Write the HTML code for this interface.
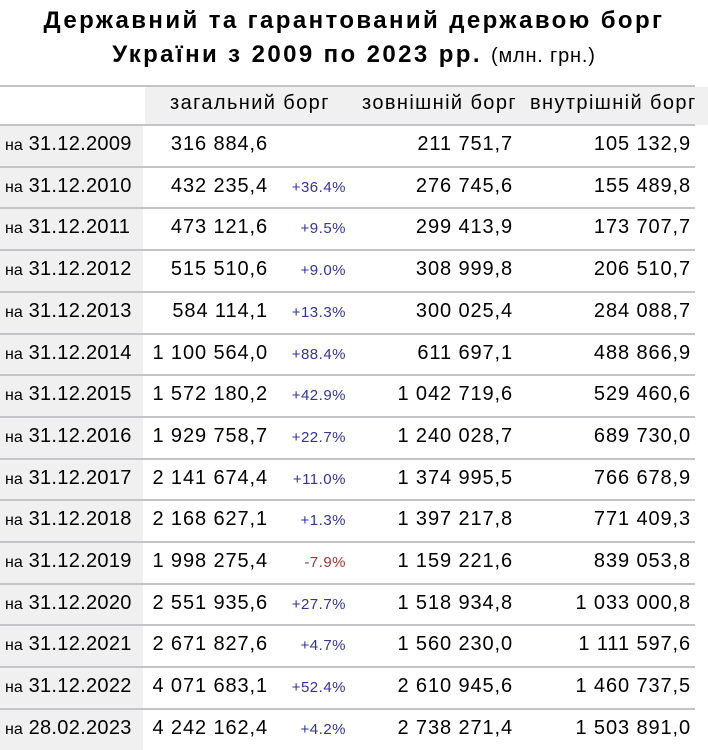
<!DOCTYPE html>
<html><head><meta charset="utf-8">
<style>
body{margin:0;width:708px;height:750px;background:#fff;position:relative;overflow:hidden;font-family:"Liberation Sans","DejaVu Sans",sans-serif;color:#000}
.a{position:absolute;white-space:nowrap}
.t{left:0;width:708px;text-align:center;font-weight:bold;font-size:24px;letter-spacing:2.4px}
.h{font-size:20px;letter-spacing:1.4px;top:92px}
</style></head><body>
<div class="a t" style="top:7px">Державний та гарантований державою борг</div>
<div class="a t" style="top:41px">України з 2009 по 2023 рр. <span style="font-weight:normal;font-size:20px;letter-spacing:0.8px">(млн. грн.)</span></div>
<div class="a" style="left:145px;top:87px;width:563px;height:38px;background:#f0f0f0"></div>
<div class="a" style="left:0;top:125px;width:143px;height:625px;background:#f0f0f0"></div>
<div class="a" style="left:0;top:85px;width:695px;height:2px;background:#c4c4c8"></div>
<div class="a h" style="left:170px">загальний борг</div>
<div class="a h" style="left:362px">зовнішній борг</div>
<div class="a h" style="left:530px">внутрішній борг</div>
<div id="rows"></div>
<script>
const dates=["31.12.2009","31.12.2010","31.12.2011","31.12.2012","31.12.2013","31.12.2014","31.12.2015","31.12.2016","31.12.2017","31.12.2018","31.12.2019","31.12.2020","31.12.2021","31.12.2022","28.02.2023"];
const totals=["316 884,6","432 235,4","473 121,6","515 510,6","584 114,1","1 100 564,0","1 572 180,2","1 929 758,7","2 141 674,4","2 168 627,1","1 998 275,4","2 551 935,6","2 671 827,6","4 071 683,1","4 242 162,4"];
const changes=["","+36.4%","+9.5%","+9.0%","+13.3%","+88.4%","+42.9%","+22.7%","+11.0%","+1.3%","-7.9%","+27.7%","+4.7%","+52.4%","+4.2%"];
const external=["211 751,7","276 745,6","299 413,9","308 999,8","300 025,4","611 697,1","1 042 719,6","1 240 028,7","1 374 995,5","1 397 217,8","1 159 221,6","1 518 934,8","1 560 230,0","2 610 945,6","2 738 271,4"];
const internal=["105 132,9","155 489,8","173 707,7","206 510,7","284 088,7","488 866,9","529 460,6","689 730,0","766 678,9","771 409,3","839 053,8","1 033 000,8","1 111 597,6","1 460 737,5","1 503 891,0"];
const root=document.getElementById('rows');
const rh=41.7, top0=125;
const num='font-size:20px;letter-spacing:0.9px;';
function mk(txt,css){const d=document.createElement('div');d.className='a';d.style.cssText=css;d.innerHTML=txt;root.appendChild(d);return d;}
dates.forEach((dt,i)=>{
  const y=top0+i*rh;
  const ln=mk('','top:'+(y-1)+'px;left:0;width:695px;height:2px;background:#c4c4c8');
  
  
  const ty=y+8;
  const d=mk('<span style="font-size:16px;letter-spacing:0">на</span> '+dt,'left:5px;top:'+ty+'px;font-size:20px;letter-spacing:0.3px');
  
  
  const t=mk(totals[i],'right:'+(708-268)+'px;top:'+ty+'px;'+num);
  
  
  if(changes[i]){
    const c=mk(changes[i],'right:'+(708-346)+'px;top:'+(ty+4)+'px;font-size:15px;letter-spacing:0.5px;color:'+(changes[i][0]=='-'?'#a33':'#33339a'));
    
    
  }
  const e=mk(external[i],'right:'+(708-513)+'px;top:'+ty+'px;'+num);
  
  
  const n=mk(internal[i],'right:'+(708-691)+'px;top:'+ty+'px;'+num);
  
  
});
</script>
</body></html>
